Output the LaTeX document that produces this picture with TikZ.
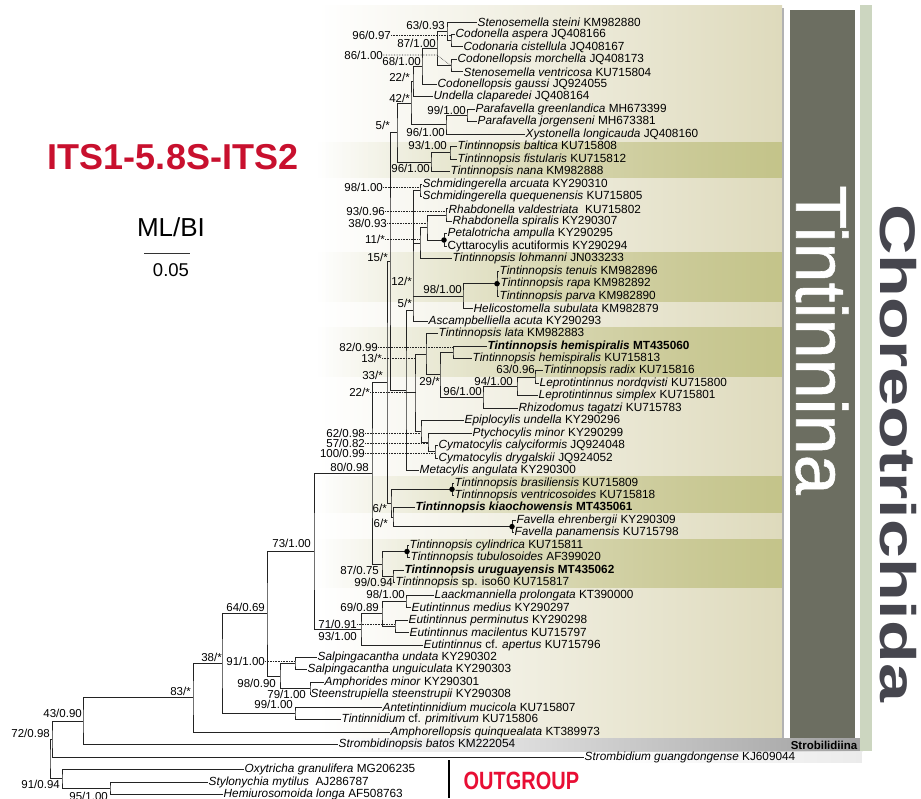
\documentclass[tikz,border=0pt]{standalone}
\usepackage{fontspec}
\setmainfont{Liberation Sans}
\newfontfamily\outfont[FakeStretch=0.8]{Liberation Sans}
\newfontfamily\widefont[FakeStretch=1.4]{Liberation Sans}
\newfontfamily\heavyfont[FakeBold=0.8]{Liberation Sans}
\usetikzlibrary{fadings}

\definecolor{titlered}{RGB}{200,16,46}
\definecolor{outred}{RGB}{232,14,52}
\definecolor{panelbeige}{RGB}{222,218,188}
\definecolor{bandolive}{RGB}{196,196,138}
\definecolor{darkbar}{RGB}{108,110,97}
\definecolor{sidebar}{RGB}{204,214,192}
\definecolor{choreo}{RGB}{70,70,78}
\definecolor{strobgray}{RGB}{160,160,160}
\definecolor{treeline}{RGB}{35,35,35}

\tikzfading[name=fade right, left color=transparent!100, right color=transparent!0]

\begin{document}
\begin{tikzpicture}[x=1pt, y=-1pt,
	branch/.style={line width=1pt, draw=treeline},
	taxon/.style={anchor=west, inner sep=0.5pt, font=\fontsize{11.8}{12}\selectfont},
	support/.style={anchor=east, inner sep=0pt, font=\fontsize{11.5}{12}\selectfont},
	leader/.style={densely dotted, line width=0.6pt, draw=treeline},
	hub/.style={circle, fill=black, inner sep=0pt, minimum size=5.5pt}]

	\useasboundingbox (0,0) rectangle (921,798);

	\shade[left color=white, right color=panelbeige] (318,5) rectangle (782,738);
	\fill[bandolive, path fading=fade right, fit fading=true] (318,142) rectangle (782,178);
	\fill[bandolive, path fading=fade right, fit fading=true] (318,252) rectangle (782,302);
	\fill[bandolive, path fading=fade right, fit fading=true] (318,327) rectangle (782,377);
	\fill[bandolive, path fading=fade right, fit fading=true] (318,476) rectangle (782,513);
	\fill[bandolive, path fading=fade right, fit fading=true] (318,539) rectangle (782,588);
	\shade[left color=white, right color=strobgray] (330,738) rectangle (862,751);
	\fill[black!8, path fading=fade right, fit fading=true] (600,751) rectangle (862,763);
	\draw[black!30, line width=1.5pt] (783,8) -- (783,738);
	\fill[darkbar] (790,10) rectangle (855,738);
	\fill[sidebar] (860,5) rectangle (872,751);

	\node[rotate=-90, inner sep=0pt, text=white, font=\heavyfont\fontsize{72}{72}\selectfont] (tint) at (822,340) {Tintinnina};
	\node[rotate=-90, inner sep=0pt, text=choreo, font=\widefont\bfseries\fontsize{50}{50}\selectfont] (chor) at (898,453) {Choreotrichida};
	\node[font=\bfseries\fontsize{11.5}{12}\selectfont] (strob) at (824,745) {Strobilidiina};

	\node[text=titlered, font=\bfseries\fontsize{36}{36}\selectfont] (title) at (173,157) {ITS1-5.8S-ITS2};
	\node[font=\fontsize{26}{26}\selectfont] (mlbi) at (171,227) {ML/BI};
	\coordinate (barl) at (144,253);
	\coordinate (barr) at (190,253);
	\draw[line width=0.8pt, black!80] (barl) -- (barr);
	\node[font=\fontsize{18.5}{19}\selectfont] (scale) at (171,270) {0.05};
	\node[text=outred, font=\outfont\bfseries\fontsize{25}{25}\selectfont, anchor=west] (outg) at (460,781) {OUTGROUP};
	\coordinate (outtop) at (449,760);
	\coordinate (outbot) at (449,798);
	\draw[line width=2pt] (outtop) -- (outbot);

	\node[taxon] (steini) at (477,22.0) {\textit{Stenosemella steini} KM982880};
	\node[taxon] (aspera) at (455,34.5) {\textit{Codonella aspera} JQ408166};
	\node[taxon] (cistel) at (463,46.9) {\textit{Codonaria cistellula} JQ408167};
	\node[taxon] (morch) at (457,59.4) {\textit{Codonellopsis morchella} JQ408173};
	\node[taxon] (ventri) at (463,71.8) {\textit{Stenosemella ventricosa} KU715804};
	\node[taxon] (gaussi) at (437,84.3) {\textit{Codonellopsis gaussi} JQ924055};
	\node[taxon] (undella) at (433,96.8) {\textit{Undella claparedei} JQ408164};
	\node[taxon] (greenl) at (475,109.2) {\textit{Parafavella greenlandica} MH673399};
	\node[taxon] (jorg) at (477,121.7) {\textit{Parafavella jorgenseni} MH673381};
	\node[taxon] (xyst) at (525,134.1) {\textit{Xystonella longicauda} JQ408160};
	\node[taxon] (baltica) at (457,146.6) {\textit{Tintinnopsis baltica} KU715808};
	\node[taxon] (fistul) at (457,159.1) {\textit{Tintinnopsis fistularis} KU715812};
	\node[taxon] (nana) at (450,171.5) {\textit{Tintinnopsis nana} KM982888};
	\node[taxon] (arcuata) at (422,184.0) {\textit{Schmidingerella arcuata} KY290310};
	\node[taxon] (queq) at (422,196.4) {\textit{Schmidingerella quequenensis} KU715805};
	\node[taxon] (valde) at (448,208.9) {\textit{Rhabdonella valdestriata}\ \ KU715802};
	\node[taxon] (spiral) at (452,221.4) {\textit{Rhabdonella spiralis} KY290307};
	\node[taxon] (petal) at (447,233.8) {\textit{Petalotricha ampulla} KY290295};
	\node[taxon] (cyttar) at (447,246.3) {Cyttarocylis acutiformis KY290294};
	\node[taxon] (lohm) at (452,258.7) {\textit{Tintinnopsis lohmanni} JN033233};
	\node[taxon] (tenuis) at (499,271.2) {\textit{Tintinnopsis tenuis} KM982896};
	\node[taxon] (rapa) at (500,283.7) {\textit{Tintinnopsis rapa} KM982892};
	\node[taxon] (parva) at (499,296.1) {\textit{Tintinnopsis parva} KM982890};
	\node[taxon] (helico) at (473,308.6) {\textit{Helicostomella subulata} KM982879};
	\node[taxon] (ascamp) at (428,321.0) {\textit{Ascampbelliella acuta} KY290293};
	\node[taxon] (lata) at (438,333.5) {\textit{Tintinnopsis lata} KM982883};
	\node[taxon] (hemimt) at (487,346.0) {\bfseries\itshape Tintinnopsis hemispiralis \upshape MT435060};
	\node[taxon] (hemiku) at (472,358.4) {\textit{Tintinnopsis hemispiralis} KU715813};
	\node[taxon] (radix) at (543,370.9) {\textit{Tintinnopsis radix} KU715816};
	\node[taxon] (nordq) at (539,383.3) {\textit{Leprotintinnus nordqvisti} KU715800};
	\node[taxon] (simplex) at (538,395.8) {\textit{Leprotintinnus simplex} KU715801};
	\node[taxon] (rhizo) at (518,408.3) {\textit{Rhizodomus tagatzi} KU715783};
	\node[taxon] (epipl) at (464,420.7) {\textit{Epiplocylis undella} KY290296};
	\node[taxon] (ptycho) at (472,433.2) {\textit{Ptychocylis minor} KY290299};
	\node[taxon] (calyc) at (438,445.6) {\textit{Cymatocylis calyciformis} JQ924048};
	\node[taxon] (drygal) at (438,458.1) {\textit{Cymatocylis drygalskii} JQ924052};
	\node[taxon] (metac) at (419,470.6) {\textit{Metacylis angulata} KY290300};
	\node[taxon] (brasil) at (454,483.0) {\textit{Tintinnopsis brasiliensis} KU715809};
	\node[taxon] (ventso) at (454,495.5) {\textit{Tintinnopsis ventricosoides} KU715818};
	\node[taxon] (kiao) at (415,507.9) {\bfseries\itshape Tintinnopsis kiaochowensis \upshape MT435061};
	\node[taxon] (ehren) at (516,520.4) {\textit{Favella ehrenbergii} KY290309};
	\node[taxon] (panam) at (514,532.9) {\textit{Favella panamensis} KU715798};
	\node[taxon] (cylin) at (409,545.3) {\textit{Tintinnopsis cylindrica} KU715811};
	\node[taxon] (tubul) at (410,557.8) {\textit{Tintinnopsis tubulosoides} AF399020};
	\node[taxon] (urug) at (404,570.2) {\bfseries\itshape Tintinnopsis uruguayensis \upshape MT435062};
	\node[taxon] (iso) at (395,582.7) {\textit{Tintinnopsis} sp. iso60 KU715817};
	\node[taxon] (laack) at (434,595.2) {\textit{Laackmanniella prolongata} KT390000};
	\node[taxon] (medius) at (411,607.6) {\textit{Eutintinnus medius} KY290297};
	\node[taxon] (permin) at (408,620.1) {\textit{Eutintinnus perminutus} KY290298};
	\node[taxon] (macil) at (409,632.5) {\textit{Eutintinnus macilentus} KU715797};
	\node[taxon] (apert) at (423,645.0) {\textit{Eutintinnus} cf. \textit{apertus} KU715796};
	\node[taxon] (undata) at (317,657.5) {\textit{Salpingacantha undata} KY290302};
	\node[taxon] (unguic) at (307,669.9) {\textit{Salpingacantha unguiculata} KY290303};
	\node[taxon] (amphmin) at (324,682.4) {\textit{Amphorides minor} KY290301};
	\node[taxon] (steen) at (310,694.8) {\textit{Steenstrupiella steenstrupii} KY290308};
	\node[taxon] (antet) at (382,707.3) {\textit{Antetintinnidium mucicola} KU715807};
	\node[taxon] (tintid) at (341,719.8) {\textit{Tintinnidium} cf. \textit{primitivum} KU715806};
	\node[taxon] (amphq) at (390,732.2) {\textit{Amphorellopsis quinquealata} KT389973};
	\node[taxon] (sbatos) at (338,744.7) {\textit{Strombidinopsis batos} KM222054};
	\node[taxon] (sguang) at (584,757.1) {\textit{Strombidium guangdongense} KJ609044};
	\node[taxon] (oxy) at (244,769.6) {\textit{Oxytricha granulifera} MG206235};
	\node[taxon] (stylo) at (208,782.1) {\textit{Stylonychia mytilus}\ \ AJ286787};
	\node[taxon] (hemiu) at (223,794.5) {\textit{Hemiurosomoida longa} AF508763};

	\coordinate (cod) at (451,40.7);
	\coordinate (cst) at (447,31.4);
	\coordinate (cmo) at (451,65.6);
	\coordinate (c87) at (437,48.5);
	\coordinate (c68) at (422,66.4);
	\coordinate (c22) at (413,81.6);
	\coordinate (paf) at (467,115.5);
	\coordinate (c96) at (446,124.8);
	\coordinate (c42) at (411,103.2);
	\coordinate (tbf) at (450,152.9);
	\coordinate (tbn) at (431,162.2);
	\coordinate (c5) at (397,132.7);
	\coordinate (sch) at (420,190.2);
	\coordinate (rha) at (446,215.1);
	\coordinate (pet) at (444,240.0);
	\coordinate (c38) at (427,227.6);
	\coordinate (c11) at (420,243.1);
	\coordinate (ten) at (497,283.7);
	\coordinate (c98) at (463,296.1);
	\coordinate (grp) at (413,310.6);
	\coordinate (lep) at (535,377.1);
	\coordinate (c94) at (517,386.5);
	\coordinate (c96b) at (483,397.4);
	\coordinate (hem) at (453,352.2);
	\coordinate (c29) at (440,374.8);
	\coordinate (lat) at (426,354.2);
	\coordinate (cym) at (435,451.9);
	\coordinate (c57) at (428,442.5);
	\coordinate (c62) at (421,431.6);
	\coordinate (c13) at (415,392.9);
	\coordinate (mid) at (406,390.0);
	\coordinate (c15) at (390,261.4);
	\coordinate (bra) at (452,489.3);
	\coordinate (fav) at (512,526.6);
	\coordinate (c6b) at (393,517.3);
	\coordinate (c6a) at (391,503.3);
	\coordinate (c33) at (387,382.3);
	\coordinate (cyl) at (407,551.5);
	\coordinate (c99) at (393,576.5);
	\coordinate (c87b) at (382,564.0);
	\coordinate (c80) at (372,473.2);
	\coordinate (eut98) at (406,601.4);
	\coordinate (eper) at (395,626.3);
	\coordinate (c69) at (382,613.9);
	\coordinate (eut) at (361,629.4);
	\coordinate (c73) at (314,551.3);
	\coordinate (salp) at (295,663.7);
	\coordinate (amp) at (310,688.6);
	\coordinate (c98b) at (280,676.2);
	\coordinate (c64) at (267,613.7);
	\coordinate (ant) at (295,713.5);
	\coordinate (c38b) at (222,663.6);
	\coordinate (c83) at (193,697.9);
	\coordinate (c43) at (83,721.3);
	\coordinate (c72) at (52,739.2);
	\coordinate (c95) at (110,788.3);
	\coordinate (c91) at (62,778.9);
	\coordinate (root) at (50,759.0);

	\draw[branch] (aspera.west) -| (cod) |- (cistel.west);
	\draw[branch] (steini.west) -| (cst) |- (cod);
	\draw[branch] (morch.west) -| (cmo) |- (ventri.west);
	\draw[branch] (cst) -| (c87) |- (cmo);
	\draw[branch] (c87) -| (c68) |- (gaussi.west);
	\draw[branch] (c68) -| (c22) |- (undella.west);
	\draw[branch] (greenl.west) -| (paf) |- (jorg.west);
	\draw[branch] (paf) -| (c96) |- (xyst.west);
	\draw[branch] (c22) -| (c42) |- (c96);
	\draw[branch] (baltica.west) -| (tbf) |- (fistul.west);
	\draw[branch] (tbf) -| (tbn) |- (nana.west);
	\draw[branch] (c42) -| (c5) |- (tbn);
	\draw[branch] (arcuata.west) -| (sch) |- (queq.west);
	\draw[branch] (valde.west) -| (rha) |- (spiral.west);
	\draw[branch] (petal.west) -| (pet) |- (cyttar.west);
	\draw[branch] (rha) -| (c38) |- (pet);
	\draw[branch] (c38) -| (c11) |- (lohm.west);
	\draw[branch] (tenuis.west) -| (ten) |- (parva.west);
	\draw[branch] (ten) -- (rapa.west);
	\draw[branch] (ten) -| (c98) |- (helico.west);
	\draw[branch] (sch) -| (grp) |- (ascamp.west);
	\draw[branch] (c11) -- (c11 -| grp);
	\draw[branch] (c98) -- (c98 -| grp);
	\draw[branch] (radix.west) -| (lep) |- (nordq.west);
	\draw[branch] (lep) -| (c94) |- (simplex.west);
	\draw[branch] (c94) -| (c96b) |- (rhizo.west);
	\draw[branch] (hemimt.west) -| (hem) |- (hemiku.west);
	\draw[branch] (hem) -| (c29) |- (c96b);
	\draw[branch] (lata.west) -| (lat) |- (c29);
	\draw[branch] (calyc.west) -| (cym) |- (drygal.west);
	\draw[branch] (ptycho.west) -| (c57) |- (cym);
	\draw[branch] (epipl.west) -| (c62) |- (c57);
	\draw[branch] (lat) -| (c13) |- (c62);
	\draw[branch] (grp) -| (mid) |- (metac.west);
	\draw[branch] (c13) -- (c13 -| mid);
	\draw[branch] (c5) -| (c15) |- (mid);
	\draw[branch] (brasil.west) -| (bra) |- (ventso.west);
	\draw[branch] (ehren.west) -| (fav) |- (panam.west);
	\draw[branch] (kiao.west) -| (c6b) |- (fav);
	\draw[branch] (bra) -| (c6a) |- (c6b);
	\draw[branch] (c15) -| (c33) |- (c6a);
	\draw[branch] (cylin.west) -| (cyl) |- (tubul.west);
	\draw[branch] (urug.west) -| (c99) |- (iso.west);
	\draw[branch] (cyl) -| (c87b) |- (c99);
	\draw[branch] (c33) -| (c80) |- (c87b);
	\draw[branch] (laack.west) -| (eut98) |- (medius.west);
	\draw[branch] (permin.west) -| (eper) |- (macil.west);
	\draw[branch] (eut98) -| (c69) |- (eper);
	\draw[branch] (c69) -| (eut) |- (apert.west);
	\draw[branch] (c80) -| (c73) |- (eut);
	\draw[branch] (undata.west) -| (salp) |- (unguic.west);
	\draw[branch] (amphmin.west) -| (amp) |- (steen.west);
	\draw[branch] (salp) -| (c98b) |- (amp);
	\draw[branch] (c73) -| (c64) |- (c98b);
	\draw[branch] (antet.west) -| (ant) |- (tintid.west);
	\draw[branch] (c64) -| (c38b) |- (ant);
	\draw[branch] (c38b) -| (c83) |- (amphq.west);
	\draw[branch] (c83) -| (c43) |- (sbatos.west);
	\draw[branch] (c43) -| (c72) |- (sguang.west);
	\draw[branch] (stylo.west) -| (c95) |- (hemiu.west);
	\draw[branch] (oxy.west) -| (c91) |- (c95);
	\draw[branch] (c72) -| (root) |- (c91);

	\node[hub] (pethub) at (pet) {};
	\node[hub] (tenhub) at (ten) {};
	\node[hub] (brahub) at (bra) {};
	\node[hub] (favhub) at (fav) {};
	\node[hub] (cylhub) at (cyl) {};

	\node[support] (bs1) at (445,25) {63/0.93};
	\node[support] (bs2) at (391,35) {96/0.97};
	\node[support] (bs3) at (436,43) {87/1.00};
	\node[support] (bs4) at (383,55) {86/1.00};
	\node[support] (bs5) at (421,61) {68/1.00};
	\node[support] (bs6) at (410,77) {22/*};
	\node[support] (bs7) at (410,98) {42/*};
	\node[support] (bs8) at (466,110) {99/1.00};
	\node[support] (bs9) at (445,132) {96/1.00};
	\node[support] (bs10) at (390,125) {5/*};
	\node[support] (bs11) at (447,145) {93/1.00};
	\node[support] (bs12) at (430,168) {96/1.00};
	\node[support] (bs13) at (383,187) {98/1.00};
	\node[support] (bs14) at (385,211) {93/0.96};
	\node[support] (bs15) at (387,223) {38/0.93};
	\node[support] (bs16) at (385,239) {11/*};
	\node[support] (bs17) at (388,257) {15/*};
	\node[support] (bs18) at (412,281) {12/*};
	\node[support] (bs19) at (412,303) {5/*};
	\node[support] (bs20) at (462,289) {98/1.00};
	\node[support] (bs21) at (378,347.5) {82/0.99};
	\node[support] (bs22) at (382,358) {13/*};
	\node[support] (bs23) at (535,369) {63/0.96};
	\node[support] (bs24) at (513,381) {94/1.00};
	\node[support] (bs25) at (482,391) {96/1.00};
	\node[support] (bs26) at (440,381) {29/*};
	\node[support] (bs27) at (383,375) {33/*};
	\node[support] (bs28) at (370,392) {22/*};
	\node[support] (bs29) at (365,433) {62/0.98};
	\node[support] (bs30) at (365,443) {57/0.82};
	\node[support] (bs31) at (365,453) {100/0.99};
	\node[support] (bs32) at (369,467) {80/0.98};
	\node[support] (bs33) at (387,508) {6/*};
	\node[support] (bs34) at (388,523) {6/*};
	\node[support] (bs35) at (311,543) {73/1.00};
	\node[support] (bs36) at (379,570) {87/0.75};
	\node[support] (bs37) at (393,582) {99/0.94};
	\node[support] (bs38) at (405,594) {98/1.00};
	\node[support] (bs39) at (379,607) {69/0.89};
	\node[support] (bs40) at (357,624) {71/0.91};
	\node[support] (bs41) at (357,636) {93/1.00};
	\node[support] (bs42) at (265,607) {64/0.69};
	\node[support] (bs43) at (222,657) {38/*};
	\node[support] (bs44) at (265,661) {91/1.00};
	\node[support] (bs45) at (276,683) {98/0.90};
	\node[support] (bs46) at (306,694) {79/1.00};
	\node[support] (bs47) at (293,704) {99/1.00};
	\node[support] (bs48) at (191,691) {83/*};
	\node[support] (bs49) at (82,713) {43/0.90};
	\node[support] (bs50) at (50,733) {72/0.98};
	\node[support] (bs51) at (60,784) {91/0.94};
	\node[support] (bs52) at (108,796) {95/1.00};

	\draw[leader] (bs2.east) -- (bs2.east -| cod);
	\draw[leader] (bs4.east) -- (bs4.east -| c87) -- (cmo);
	\draw[leader] (bs13.east) -- (bs13.east -| sch);
	\draw[leader] (bs14.east) -- (bs14.east -| rha);
	\draw[leader] (bs15.east) -- (bs15.east -| c38);
	\draw[leader] (bs16.east) -- (bs16.east -| c11);
	\draw[leader] (bs21.east) -- (bs21.east -| hem);
	\draw[leader] (bs22.east) -- (bs22.east -| c13);
	\draw[leader] (bs28.east) -- (bs28.east -| c13);
	\draw[leader] (bs29.east) -- (bs29.east -| c62);
	\draw[leader] (bs30.east) -- (bs30.east -| c57);
	\draw[leader] (bs31.east) -- (bs31.east -| cym);
	\draw[leader] (bs40.east) -- (bs40.east -| eper);
	\draw[leader] (bs44.east) -- (bs44.east -| salp);
\end{tikzpicture}
\end{document}
